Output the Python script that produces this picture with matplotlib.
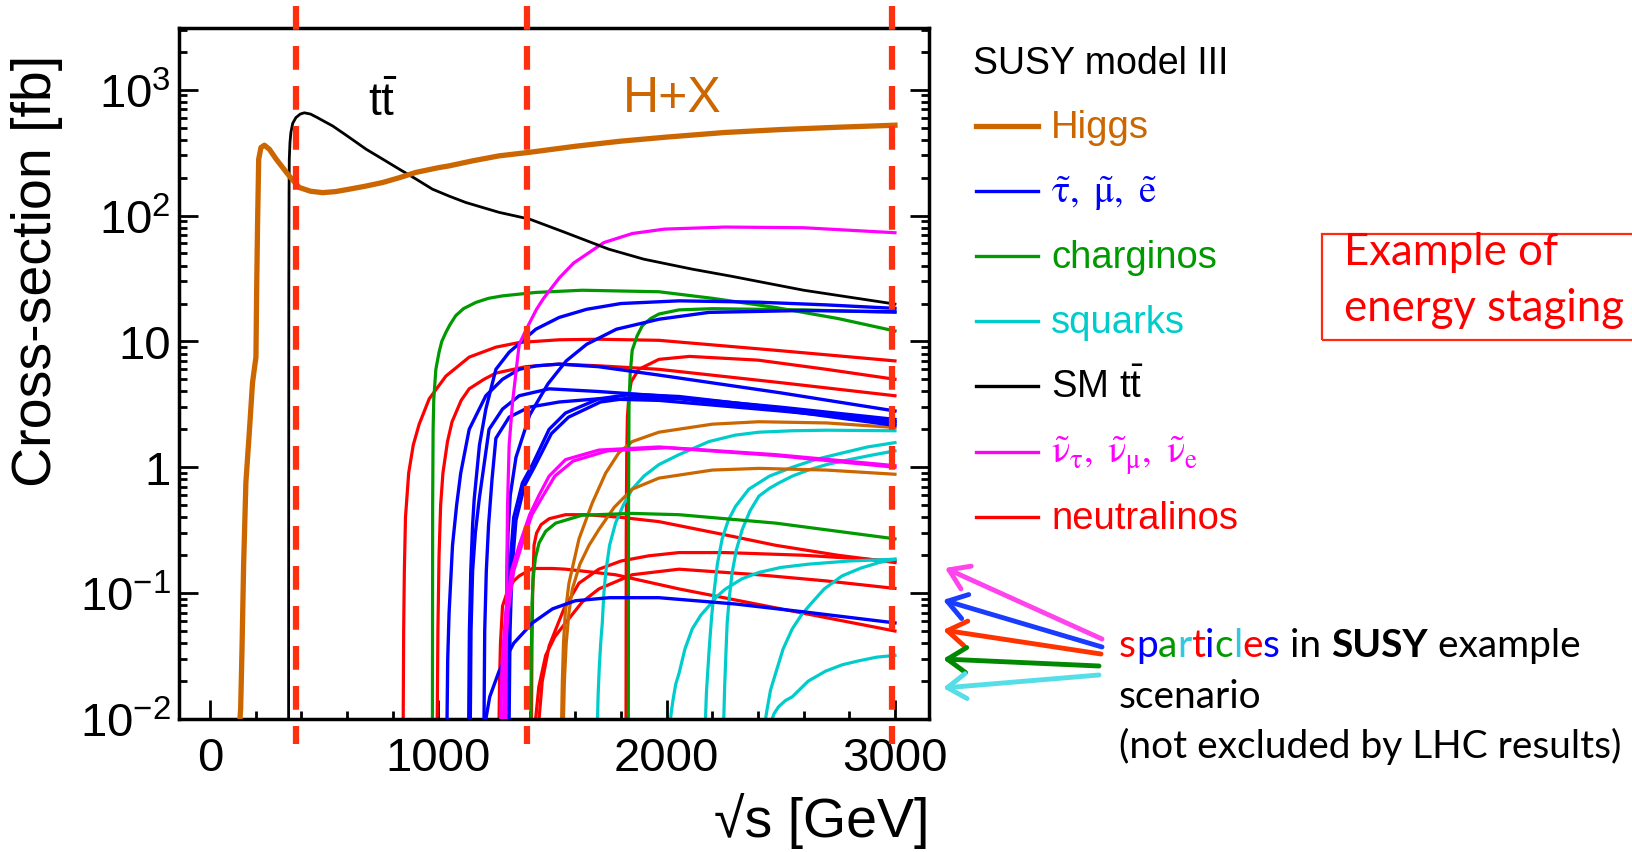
import numpy as np
import matplotlib.pyplot as plt
from matplotlib.lines import Line2D
from matplotlib.patches import Rectangle, FancyArrowPatch
from matplotlib.ticker import LogLocator, MultipleLocator, NullFormatter

plt.rcParams['font.family'] = ['Liberation Sans', 'DejaVu Sans']
plt.rcParams['mathtext.fontset'] = 'stix'

# ---- colours ----
ORANGE = '#cc6600'
BLUE = '#0000ff'
GREEN = '#009900'
CYAN = '#00cccc'
MAGENTA = '#ff00ff'
RED = '#ff0000'
STAGE_RED = '#ff3010'

# ---- data: sqrt(s) [GeV], cross-section [fb] ----
higgs_x = [131, 134, 140, 147, 157, 172, 186, 201, 204, 208, 213, 223, 238, 260, 290, 347,
           391, 440, 493, 550, 610, 680, 756, 830, 901, 1000, 1047, 1150, 1266, 1400, 1600,
           1800, 2000, 2255, 2500, 2750, 3000]
higgs_y = [0.01, 0.012, 0.036, 0.166, 0.76, 1.9, 4.7, 7.5, 24.5, 83, 280, 347, 362, 336, 280, 206,
           167, 156, 152, 155, 162, 171, 183, 200, 220, 240, 248, 272, 298, 318, 355,
           390, 420, 457, 482, 503, 522]

ttbar_x = [344, 344.5, 345, 346, 347, 350, 354, 362, 376, 395, 413, 440, 470, 500, 537, 600,
           684, 750, 828, 900, 974, 1050, 1120, 1200, 1266, 1400, 1550, 1747, 1900, 2112,
           2281, 2600, 3000]
ttbar_y = [0.01, 1, 30, 150, 280, 380, 457, 540, 600, 640, 655, 640, 600, 560, 515, 430,
           336, 285, 234, 196, 162, 142, 127, 115, 106, 93.6, 74, 54, 45, 37.5,
           33, 25.5, 19.8]

# sleptons (stau, smuon, selectron)
slepton_x = [
    [1133, 1136, 1142, 1150, 1157, 1180, 1208, 1252, 1310, 1354, 1427, 1529, 1650, 1800, 2054, 2400, 2700, 3000],
    [1296, 1299, 1305, 1315, 1340, 1400, 1480, 1560, 1650, 1780, 1966, 2185, 2600, 3000],
    [1038, 1041, 1047, 1062, 1080, 1098, 1135, 1208, 1281, 1354, 1430, 1529, 1700, 1966, 2500, 3000],
    [1140, 1143, 1150, 1162, 1179, 1222, 1281, 1354, 1485, 1700, 1966, 2500, 3000],
    [1200, 1203, 1210, 1220, 1235, 1252, 1310, 1397, 1529, 1700, 1966, 2500, 3000],
    [1300, 1304, 1312, 1330, 1368, 1412, 1485, 1557, 1703, 1849, 2054, 2500, 3000],
    [1310, 1314, 1322, 1340, 1378, 1420, 1495, 1570, 1710, 1860, 2054, 2500, 3000],
    [1208, 1225, 1266, 1330, 1412, 1500, 1600, 1750, 1966, 2300, 2600, 3000],
]
slepton_y = [
    [0.01, 0.05, 0.15, 0.35, 0.56, 1.5, 2.9, 6.0, 8.2, 9.6, 12.5, 15.5, 18, 20, 21, 20.5, 19.5, 18.3],
    [0.01, 0.1, 0.3, 0.6, 1.2, 2.6, 4.6, 7, 9.5, 12.5, 15, 17, 17.6, 17.2],
    [0.01, 0.03, 0.07, 0.24, 0.5, 0.9, 2.0, 3.7, 5.0, 6.0, 6.4, 6.6, 6.3, 5.4, 3.9, 2.8],
    [0.01, 0.05, 0.15, 0.3, 0.56, 2.0, 2.9, 3.7, 4.2, 4.0, 3.7, 3.0, 2.4],
    [0.01, 0.05, 0.15, 0.35, 0.8, 1.7, 2.5, 3.0, 3.3, 3.5, 3.4, 2.8, 2.3],
    [0.01, 0.05, 0.15, 0.4, 0.75, 1.05, 2.0, 2.7, 3.5, 3.8, 3.65, 2.95, 2.25],
    [0.01, 0.05, 0.15, 0.38, 0.72, 1.0, 1.85, 2.5, 3.3, 3.6, 3.5, 2.85, 2.15],
    [0.01, 0.015, 0.024, 0.04, 0.058, 0.075, 0.087, 0.092, 0.092, 0.082, 0.071, 0.058],
]

# charginos
chargino_x = [
    [974, 975, 977, 980, 989, 1003, 1015, 1033, 1050, 1076, 1110, 1164, 1220, 1281, 1427, 1630,
     1966, 2200, 2477, 2750, 3000],
    [1832, 1833, 1835, 1840, 1849, 1870, 1893, 1930, 1966, 2054, 2200, 2600, 3000],
    [1405, 1407, 1410, 1415, 1425, 1441, 1470, 1514, 1630, 1849, 2054, 2477, 3000],
]
chargino_y = [
    [0.01, 0.5, 2.0, 3.5, 6.0, 8.2, 10, 11.8, 13.5, 16, 18.2, 20.4, 22, 23, 24.5, 25.5,
     24.8, 22, 18.6, 15.2, 12.1],
    [0.01, 0.5, 3, 5.5, 8.5, 11, 13.3, 15.2, 16.5, 17.8, 18.2, 17.8, 17],
    [0.01, 0.03, 0.08, 0.13, 0.19, 0.25, 0.31, 0.36, 0.416, 0.43, 0.42, 0.36, 0.27],
]

# squarks
squark_x = [
    [1697, 1700, 1705, 1711, 1718, 1725, 1733, 1750, 1776, 1810, 1849, 1900, 1966, 2050, 2185,
     2300, 2404, 2550, 2700, 3000],
    [2017, 2022, 2030, 2040, 2054, 2080, 2112, 2150, 2185, 2220, 2258, 2330, 2404, 2500, 2623,
     2800, 3000],
    [2170, 2174, 2180, 2188, 2197, 2207, 2222, 2243, 2270, 2302, 2360, 2450, 2550, 2650, 2770,
     2880, 3000],
    [2250, 2254, 2260, 2265, 2275, 2287, 2305, 2331, 2365, 2404, 2450, 2491, 2550, 2620, 2700,
     2800, 2900, 3000],
    [2433, 2440, 2455, 2477, 2510, 2550, 2590, 2623, 2690, 2768, 2850, 2930, 3000],
    [2462, 2470, 2490, 2520, 2550, 2620, 2696, 2770, 2842, 2920, 3000],
]
squark_y = [
    [0.01, 0.016, 0.026, 0.04, 0.058, 0.1, 0.146, 0.24, 0.36, 0.5, 0.67, 0.85, 1.05, 1.25, 1.6,
     1.8, 1.9, 1.95, 1.97, 1.95],
    [0.01, 0.012, 0.015, 0.019, 0.023, 0.036, 0.052, 0.067, 0.079, 0.094, 0.108, 0.13, 0.146, 0.16, 0.17,
     0.18, 0.186],
    [0.01, 0.016, 0.024, 0.04, 0.065, 0.1, 0.17, 0.27, 0.38, 0.49, 0.67, 0.85, 1.0, 1.15, 1.3,
     1.45, 1.57],
    [0.01, 0.018, 0.035, 0.058, 0.095, 0.146, 0.22, 0.32, 0.45, 0.59, 0.68, 0.75, 0.85, 0.95, 1.05,
     1.15, 1.25, 1.35],
    [0.01, 0.012, 0.017, 0.023, 0.036, 0.052, 0.067, 0.079, 0.108, 0.137, 0.158, 0.175, 0.186],
    [0.01, 0.011, 0.0125, 0.014, 0.015, 0.02, 0.024, 0.027, 0.029, 0.031, 0.032],
]

# sneutrinos
sneutrino_x = [
    [1296, 1299, 1303, 1310, 1325, 1354, 1390, 1430, 1461, 1530, 1593, 1725, 1850, 1990, 2255, 2600, 3000],
    [1273, 1280, 1295, 1320, 1354, 1400, 1441, 1485, 1557, 1703, 1966, 2477, 3000],
    [1285, 1292, 1305, 1330, 1365, 1410, 1460, 1510, 1590, 1740, 2000, 2477, 3000],
]
sneutrino_y = [
    [0.01, 0.1, 0.5, 1.5, 3.3, 9.5, 13, 18, 22, 32, 42, 61, 72, 78, 81, 80, 73],
    [0.01, 0.03, 0.07, 0.15, 0.24, 0.42, 0.6, 0.85, 1.15, 1.37, 1.45, 1.26, 1.03],
    [0.01, 0.03, 0.07, 0.15, 0.24, 0.42, 0.6, 0.85, 1.12, 1.35, 1.43, 1.24, 1.0],
]

# heavy Higgs bosons
heavy_higgs_x = [
    [1540, 1543, 1548, 1556, 1572, 1616, 1674, 1733, 1790, 1849, 1966, 2200, 2404, 2700, 3000],
    [1548, 1552, 1560, 1572, 1587, 1620, 1660, 1703, 1770, 1849, 1966, 2200, 2404, 2700, 3000],
]
heavy_higgs_y = [
    [0.01, 0.02, 0.04, 0.07, 0.12, 0.27, 0.52, 0.9, 1.3, 1.6, 1.9, 2.2, 2.3, 2.25, 2.07],
    [0.01, 0.02, 0.04, 0.07, 0.108, 0.17, 0.24, 0.32, 0.48, 0.67, 0.82, 0.95, 0.98, 0.95, 0.88],
]

# neutralinos
neutralino_x = [
    [846, 848, 851, 856, 870, 890, 916, 960, 1033, 1135, 1252, 1354, 1529, 1703, 1966, 2477, 3000],
    [995, 998, 1003, 1010, 1020, 1040, 1060, 1100, 1135, 1200, 1252, 1383, 1529, 1703, 1966, 2500, 3000],
    [1822, 1823, 1825, 1828, 1835, 1845, 1878, 1966, 2100, 2400, 2700, 3000],
    [1266, 1268, 1272, 1281, 1300, 1330, 1354, 1412, 1500, 1557, 1776, 2054, 2500, 3000],
    [1408, 1410, 1413, 1419, 1430, 1450, 1485, 1557, 1650, 1800, 1966, 2258, 2477, 2750, 3000],
    [1441, 1455, 1485, 1550, 1616, 1703, 1800, 1922, 2054, 2258, 2600, 3000],
    [1426, 1440, 1470, 1510, 1557, 1630, 1703, 1849, 2054, 2400, 2700, 3000],
]
neutralino_y = [
    [0.01, 0.05, 0.15, 0.4, 0.9, 1.5, 2.2, 3.5, 5.3, 7.5, 9.0, 9.8, 10.3, 10.4, 10.2, 8.5, 7.0],
    [0.01, 0.05, 0.2, 0.5, 0.9, 1.6, 2.3, 3.4, 4.2, 5.0, 5.6, 6.3, 6.6, 6.4, 6.0, 4.7, 3.7],
    [0.01, 0.3, 1.2, 2.5, 3.8, 4.8, 6.0, 7.2, 7.6, 7.1, 6.0, 5.0],
    [0.01, 0.02, 0.04, 0.079, 0.1, 0.125, 0.137, 0.157, 0.157, 0.155, 0.14, 0.108, 0.075, 0.05],
    [0.01, 0.04, 0.1, 0.24, 0.3, 0.35, 0.39, 0.42, 0.42, 0.4, 0.37, 0.29, 0.24, 0.2, 0.175],
    [0.01, 0.02, 0.038, 0.075, 0.12, 0.155, 0.18, 0.198, 0.21, 0.21, 0.2, 0.18],
    [0.01, 0.018, 0.032, 0.045, 0.058, 0.085, 0.108, 0.14, 0.155, 0.14, 0.125, 0.109],
]

# energy stages (dashed lines) and axis labelling
stage_energies = [376, 1388, 2988]
y_major_ticks = [1e-2, 1e-1, 1, 10, 1e2, 1e3]
y_tick_labels = [r'$\mathregular{10^{-2}}$', r'$\mathregular{10^{-1}}$', '1', '10',
                 r'$\mathregular{10^{2}}$', r'$\mathregular{10^{3}}$']
x_major_ticks = [0, 1000, 2000, 3000]

legend_labels = ['Higgs', r'$\mathrm{\tilde{\tau},\ \tilde{\mu},\ \tilde{e}}$', 'charginos', 'squarks',
                 r'SM $\mathregular{t\bar{t}}$',
                 r'$\mathrm{\tilde{\nu}_{\tau},\ \tilde{\nu}_{\mu},\ \tilde{\nu}_{e}}$', 'neutralinos']
legend_colors = [ORANGE, BLUE, GREEN, CYAN, 'black', MAGENTA, RED]
legend_widths = [3.8, 2.4, 2.4, 2.4, 2.4, 2.4, 2.4]

arrow_colors = ['#ff44ee', '#1a3cff', '#ff3300', '#008800', '#55dde8']
sparticle_letter_colors = [RED, BLUE, GREEN, '#33c8e0', RED, BLUE, GREEN, '#33c8e0', RED, BLUE]

W, H = 1632, 853


def fx(px):
    return px / W


def fy(py):
    return 1 - py / H


fig = plt.figure(figsize=(W / 100, H / 100), dpi=100)
ax = fig.add_axes([fx(179), fy(720), (929 - 179) / W, (720 - 29) / H])

# SUSY curves
for xs, ys in zip(neutralino_x, neutralino_y):
    ax.plot(xs, ys, color=RED, lw=2.3, zorder=2)
for xs, ys in zip(squark_x, squark_y):
    ax.plot(xs, ys, color=CYAN, lw=2.3, zorder=2)
for xs, ys in zip(heavy_higgs_x, heavy_higgs_y):
    ax.plot(xs, ys, color=ORANGE, lw=2.3, zorder=2)
for xs, ys in zip(chargino_x, chargino_y):
    ax.plot(xs, ys, color=GREEN, lw=2.3, zorder=2)
for xs, ys in zip(slepton_x, slepton_y):
    ax.plot(xs, ys, color=BLUE, lw=2.4, zorder=3)
for xs, ys in zip(sneutrino_x, sneutrino_y):
    ax.plot(xs, ys, color=MAGENTA, lw=2.3, zorder=3)

# Standard Model processes
ax.plot(ttbar_x, ttbar_y, color='black', lw=2.0, zorder=4)
ax.plot(higgs_x, higgs_y, color=ORANGE, lw=3.8, zorder=5)

# energy stages
for e in stage_energies:
    ax.plot([e, e], [1.032, -0.036], transform=ax.get_xaxis_transform(), color=STAGE_RED,
            lw=4.5, dashes=(3.8, 2.6), clip_on=False, zorder=6)

ax.set_yscale('log')
ax.set_xlim(-136, 3149)
ax.set_ylim(0.01, 3090)
ax.set_yticks(y_major_ticks, y_tick_labels)
ax.yaxis.set_minor_locator(LogLocator(base=10, subs=np.arange(2, 10), numticks=20))
ax.yaxis.set_minor_formatter(NullFormatter())
ax.set_xticks(x_major_ticks)
ax.xaxis.set_minor_locator(MultipleLocator(200))
ax.tick_params(which='both', direction='in', right=True, top=False, width=2)
ax.tick_params(which='major', length=14, labelsize=34)
ax.tick_params(axis='y', which='major', pad=6)
ax.tick_params(axis='x', which='major', pad=12)
ax.tick_params(which='minor', length=6)
for s in ax.spines.values():
    s.set_linewidth(2.5)

ax.set_ylabel('Cross-section [fb]', fontsize=40, va='center')
ax.yaxis.set_label_coords(-0.189, 0.650)
ax.set_xlabel('√s [GeV]', fontsize=40, ha='right', va='center')
ax.xaxis.set_label_coords(1.0, -0.146)

ax.text(756, 790, r'$\mathregular{t\bar{t}}$', fontsize=33, ha='center', va='center')
ax.text(2026, 855, 'H+X', fontsize=36, color=ORANGE, ha='center', va='center')

# legend drawn by hand
fig.text(fx(973), fy(74), 'SUSY model III', fontsize=27, va='baseline')
for i, (lab, col, lw) in enumerate(zip(legend_labels, legend_colors, legend_widths)):
    yrow = 127 + 65.1 * i
    fig.add_artist(Line2D([fx(975.5), fx(1037.6)], [fy(yrow), fy(yrow)], color=col, lw=lw,
                          transform=fig.transFigure))
    fig.text(fx(1051), fy(yrow + 11), lab, fontsize=27.5, color=col, va='baseline')

# staging box
fig.add_artist(Rectangle((fx(1322), fy(341)), fx(1650) - fx(1322), fy(235) - fy(341),
                         transform=fig.transFigure, fill=False, edgecolor='#ff2a10', lw=1.6))
fig.text(fx(1344), fy(265), 'Example of', fontsize=31.5, color=RED, family='Lato', va='baseline')
fig.text(fx(1344), fy(321), 'energy staging', fontsize=31.5, color=RED, family='Lato', va='baseline')

# arrows pointing at the SUSY curves
arrow_tails = [(1102, 640), (1102, 648), (1101, 655), (1099, 667), (1099, 676)]
arrow_heads = [(945, 569), (943, 601), (943, 631), (943, 660), (943, 689)]
for (tx, ty), (hx, hy), col in zip(arrow_tails, arrow_heads, arrow_colors):
    fig.add_artist(FancyArrowPatch((fx(tx), fy(ty)), (fx(hx), fy(hy)), transform=fig.transFigure,
                                   arrowstyle='->,head_length=0.45,head_width=0.3', mutation_scale=30,
                                   color=col, lw=3.5, shrinkA=0, shrinkB=0, capstyle='round',
                                   joinstyle='round'))

renderer = fig.canvas.get_renderer()
xpos = fx(1119)
for ch, col in zip('sparticles', sparticle_letter_colors):
    t = fig.text(xpos, fy(657), ch, fontsize=28, color=col, family='Lato', va='baseline')
    xpos += t.get_window_extent(renderer).width / W
t = fig.text(xpos, fy(657), ' in ', fontsize=28, family='Lato', va='baseline')
xpos += t.get_window_extent(renderer).width / W
t = fig.text(xpos, fy(657), 'SUSY', fontsize=28, family='Lato', fontweight='bold', va='baseline')
xpos += t.get_window_extent(renderer).width / W
fig.text(xpos, fy(657), ' example', fontsize=28, family='Lato', va='baseline')
fig.text(fx(1119), fy(708), 'scenario', fontsize=28, family='Lato', va='baseline')
fig.text(fx(1119), fy(758), '(not excluded by LHC results)', fontsize=28, family='Lato', va='baseline')

fig.savefig('out.png', dpi=100)
